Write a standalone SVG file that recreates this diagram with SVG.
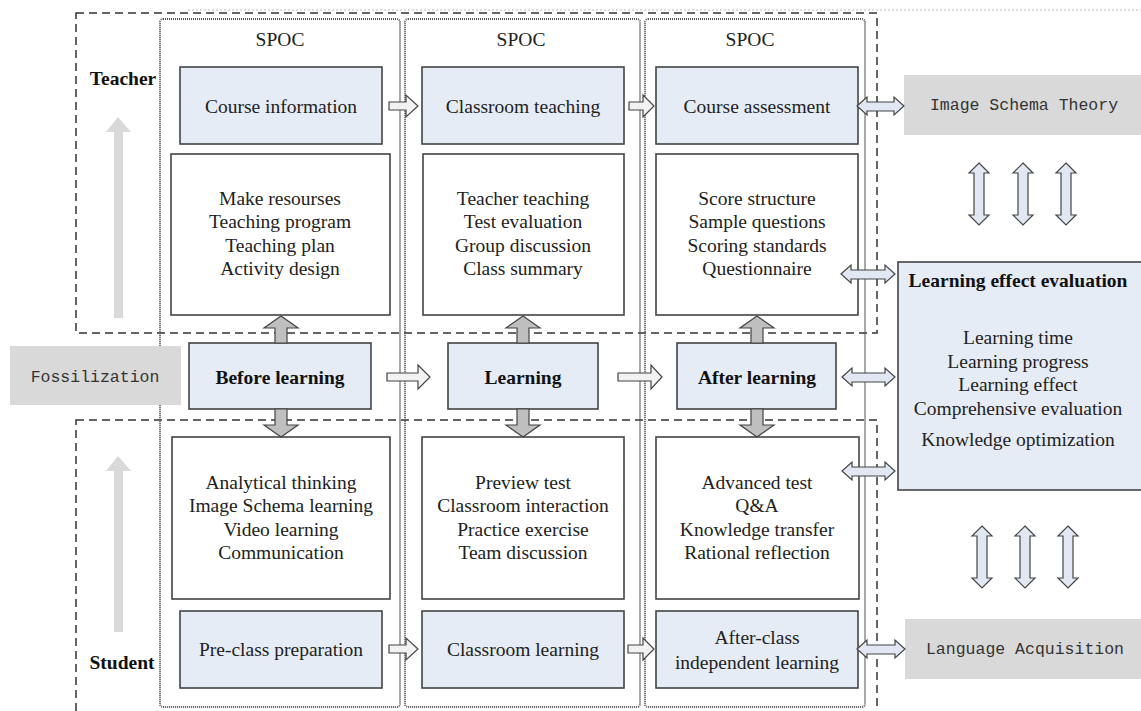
<svg xmlns="http://www.w3.org/2000/svg" width="1141" height="711" viewBox="0 0 1141 711">
  <style>
    .serif { font-family: "Liberation Serif", "Times New Roman", serif; font-size: 19.5px; fill: #222; text-anchor: middle; dominant-baseline: central; }
    .bold { font-weight: bold; fill: #111; }
    .mono { font-family: "Liberation Mono", "Courier New", monospace; font-size: 16.5px; fill: #333; text-anchor: middle; dominant-baseline: central; }
    .blue { fill: #e6ecf6; stroke: #444; stroke-width: 1.6; }
    .white { fill: #fff; stroke: #444; stroke-width: 1.6; }
    .grey { fill: #d9d9d9; }
    .region { fill: none; stroke: #333; stroke-width: 1.5; stroke-dasharray: 8 5; }
    .spoc { fill: none; stroke: #555; stroke-width: 2; stroke-dasharray: 1 1; }
    .step { fill: #f2f2f2; stroke: #444; stroke-width: 1.2; }
    .link { fill: #e1e8f3; stroke: #444; stroke-width: 1.2; }
    .fat { fill: #bfbfbf; stroke: #444; stroke-width: 1.2; }
    .trend { fill: #d9d9d9; }
  </style>

  <!-- faint page rule -->
  <line x1="188" y1="10" x2="1141" y2="10" stroke="#bbb" stroke-width="1" stroke-dasharray="2 2"/>

  <!-- role regions -->
  <g id="regions">
    <rect class="region" x="76" y="13" width="801" height="320"/>
    <rect class="region" x="76" y="420" width="801" height="300"/>
  </g>

  <!-- SPOC columns -->
  <g id="spoc-columns">
    <rect class="spoc" x="160" y="19" width="240" height="688" rx="3"/>
    <rect class="spoc" x="405" y="19" width="235" height="688" rx="3"/>
    <rect class="spoc" x="645" y="19" width="220" height="688" rx="3"/>
    <text class="serif" x="280" y="39">SPOC</text>
    <text class="serif" x="521" y="39">SPOC</text>
    <text class="serif" x="750" y="39">SPOC</text>
  </g>

  <!-- role labels and trend arrows -->
  <g id="teacher-label">
    <text class="serif bold" x="123" y="78">Teacher</text>
    <path class="trend" d="M118,117 L131,132 L123,132 L123,318 L114,318 L114,132 L106,132 Z"/>
  </g>
  <g id="student-label">
    <text class="serif bold" x="122" y="662">Student</text>
    <path class="trend" d="M118,456 L131,471 L123,471 L123,632 L114,632 L114,471 L106,471 Z"/>
  </g>

  <!-- teacher row -->
  <g id="course-information">
    <rect class="blue" x="180" y="67" width="202" height="77"/>
    <text class="serif" x="281" y="106">Course information</text>
  </g>
  <g id="classroom-teaching">
    <rect class="blue" x="422" y="67" width="202" height="77"/>
    <text class="serif" x="523" y="106">Classroom teaching</text>
  </g>
  <g id="course-assessment">
    <rect class="blue" x="656" y="67" width="202" height="77"/>
    <text class="serif" x="757" y="106">Course assessment</text>
  </g>

  <g id="teacher-before">
    <rect class="white" x="171" y="154" width="219" height="161"/>
    <text class="serif" x="280" y="198">Make resourses</text>
    <text class="serif" x="280" y="221.5">Teaching program</text>
    <text class="serif" x="280" y="245">Teaching plan</text>
    <text class="serif" x="280" y="268.5">Activity design</text>
  </g>
  <g id="teacher-during">
    <rect class="white" x="423" y="154" width="201" height="161"/>
    <text class="serif" x="523" y="198">Teacher teaching</text>
    <text class="serif" x="523" y="221.5">Test evaluation</text>
    <text class="serif" x="523" y="245">Group discussion</text>
    <text class="serif" x="523" y="268.5">Class summary</text>
  </g>
  <g id="teacher-after">
    <rect class="white" x="656" y="154" width="202" height="161"/>
    <text class="serif" x="757" y="198">Score structure</text>
    <text class="serif" x="757" y="221.5">Sample questions</text>
    <text class="serif" x="757" y="245">Scoring standards</text>
    <text class="serif" x="757" y="268.5">Questionnaire</text>
  </g>

  <!-- stage row -->
  <g id="fossilization">
    <rect class="grey" x="10" y="346" width="171" height="59"/>
    <text class="mono" x="95" y="377">Fossilization</text>
  </g>
  <g id="before-learning">
    <rect class="blue" x="189" y="343" width="182" height="66"/>
    <text class="serif bold" x="280" y="377">Before learning</text>
  </g>
  <g id="learning">
    <rect class="blue" x="448" y="343" width="150" height="66"/>
    <text class="serif bold" x="523" y="377">Learning</text>
  </g>
  <g id="after-learning">
    <rect class="blue" x="677" y="343" width="159" height="66"/>
    <text class="serif bold" x="757" y="377">After learning</text>
  </g>

  <!-- student row -->
  <g id="student-before">
    <rect class="white" x="172" y="437" width="218" height="162"/>
    <text class="serif" x="281" y="482">Analytical thinking</text>
    <text class="serif" x="281" y="505.5">Image Schema learning</text>
    <text class="serif" x="281" y="529">Video learning</text>
    <text class="serif" x="281" y="552.5">Communication</text>
  </g>
  <g id="student-during">
    <rect class="white" x="422" y="437" width="202" height="162"/>
    <text class="serif" x="523" y="482">Preview test</text>
    <text class="serif" x="523" y="505.5">Classroom interaction</text>
    <text class="serif" x="523" y="529">Practice exercise</text>
    <text class="serif" x="523" y="552.5">Team discussion</text>
  </g>
  <g id="student-after">
    <rect class="white" x="656" y="437" width="203" height="162"/>
    <text class="serif" x="757" y="482">Advanced test</text>
    <text class="serif" x="757" y="505.5">Q&amp;A</text>
    <text class="serif" x="757" y="529">Knowledge transfer</text>
    <text class="serif" x="757" y="552.5">Rational reflection</text>
  </g>

  <g id="pre-class-preparation">
    <rect class="blue" x="180" y="611" width="202" height="77"/>
    <text class="serif" x="281" y="649.5">Pre-class preparation</text>
  </g>
  <g id="classroom-learning">
    <rect class="blue" x="422" y="611" width="202" height="77"/>
    <text class="serif" x="523" y="649.5">Classroom learning</text>
  </g>
  <g id="after-class-learning">
    <rect class="blue" x="656" y="611" width="202" height="77"/>
    <text class="serif" x="757" y="637">After-class</text>
    <text class="serif" x="757" y="662">independent learning</text>
  </g>

  <!-- theories and evaluation -->
  <g id="image-schema-theory">
    <rect class="grey" x="904" y="75" width="240" height="60"/>
    <text class="mono" x="1024" y="105">Image Schema Theory</text>
  </g>
  <g id="learning-effect-evaluation">
    <rect class="blue" x="898" y="262" width="250" height="228"/>
    <text class="serif bold" x="1018" y="280">Learning effect evaluation</text>
    <text class="serif" x="1018" y="337">Learning time</text>
    <text class="serif" x="1018" y="361">Learning progress</text>
    <text class="serif" x="1018" y="384.5">Learning effect</text>
    <text class="serif" x="1018" y="408">Comprehensive evaluation</text>
    <text class="serif" x="1018" y="439">Knowledge optimization</text>
  </g>
  <g id="language-acquisition">
    <rect class="grey" x="905" y="619" width="240" height="60"/>
    <text class="mono" x="1025" y="649">Language Acquisition</text>
  </g>

  <!-- connectors -->
  <g id="connectors">
    <!-- sequence arrows -->
    <path class="step" d="M389,102 L406,102 L406,95 L418,106 L406,117 L406,110 L389,110 Z"/>
    <path class="step" d="M629,102 L643,102 L643,95 L654,106 L643,117 L643,110 L629,110 Z"/>
    <path class="step" d="M387,373 L418,373 L418,365 L430,377 L418,389 L418,381 L387,381 Z"/>
    <path class="step" d="M618,373 L651,373 L651,365 L662,377 L651,389 L651,381 L618,381 Z"/>
    <path class="step" d="M389,645 L406,645 L406,638 L418,649 L406,660 L406,653 L389,653 Z"/>
    <path class="step" d="M628,645 L643,645 L643,638 L654,649 L643,660 L643,653 L628,653 Z"/>

    <!-- stage to role arrows -->
    <path class="fat" d="M281,316 L298,328 L287,328 L287,343 L275,343 L275,328 L264,328 Z"/>
    <path class="fat" d="M523,316 L540,328 L529,328 L529,343 L517,343 L517,328 L506,328 Z"/>
    <path class="fat" d="M757,316 L774,328 L763,328 L763,343 L751,343 L751,328 L740,328 Z"/>
    <path class="fat" d="M281,437 L298,425 L287,425 L287,409 L275,409 L275,425 L264,425 Z"/>
    <path class="fat" d="M523,437 L540,425 L529,425 L529,409 L517,409 L517,425 L506,425 Z"/>
    <path class="fat" d="M757,437 L774,425 L763,425 L763,409 L751,409 L751,425 L740,425 Z"/>

    <!-- links to theories and evaluation -->
    <path class="link" d="M857,106 L867,97 L867,102 L894,102 L894,97 L904,106 L894,115 L894,111 L867,111 L867,115 Z"/>
    <path class="link" d="M841,274 L851,265 L851,270 L885,270 L885,265 L895,274 L885,283 L885,279 L851,279 L851,283 Z"/>
    <path class="link" d="M842,377 L852,368 L852,373 L885,373 L885,368 L895,377 L885,386 L885,382 L852,382 L852,386 Z"/>
    <path class="link" d="M842,471 L852,462 L852,467 L885,467 L885,462 L895,471 L885,480 L885,476 L852,476 L852,480 Z"/>
    <path class="link" d="M857,649 L867,640 L867,645 L895,645 L895,640 L905,649 L895,658 L895,654 L867,654 L867,658 Z"/>

    <!-- vertical links -->
    <path class="link" d="M979,163 L989,173 L984,173 L984,215 L989,215 L979,225 L969,215 L974,215 L974,173 L969,173 Z"/>
    <path class="link" d="M1023,163 L1033,173 L1028,173 L1028,215 L1033,215 L1023,225 L1013,215 L1018,215 L1018,173 L1013,173 Z"/>
    <path class="link" d="M1066,163 L1076,173 L1071,173 L1071,215 L1076,215 L1066,225 L1056,215 L1061,215 L1061,173 L1056,173 Z"/>
    <path class="link" d="M982,526 L992,536 L987,536 L987,578 L992,578 L982,588 L972,578 L977,578 L977,536 L972,536 Z"/>
    <path class="link" d="M1025,526 L1035,536 L1030,536 L1030,578 L1035,578 L1025,588 L1015,578 L1020,578 L1020,536 L1015,536 Z"/>
    <path class="link" d="M1068,526 L1078,536 L1073,536 L1073,578 L1078,578 L1068,588 L1058,578 L1063,578 L1063,536 L1058,536 Z"/>
  </g>
</svg>
